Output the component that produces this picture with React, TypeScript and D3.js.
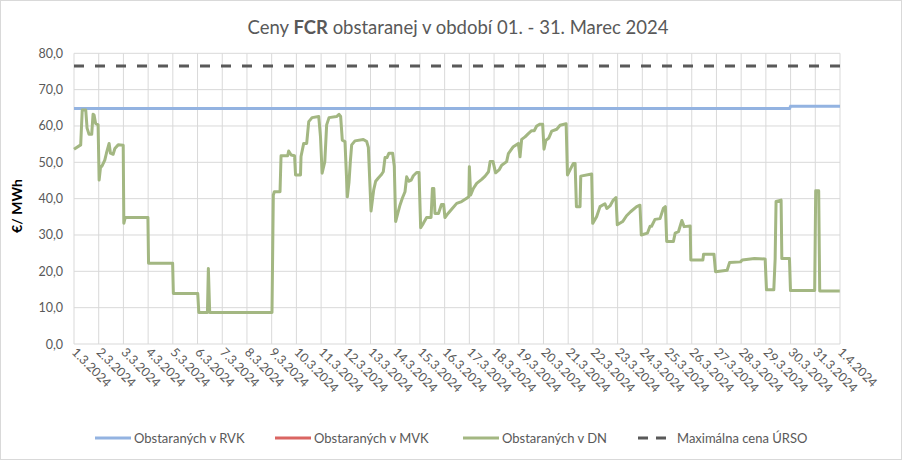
import React from "react";
import * as d3 from "d3";

const W = 902;
const H = 460;

const dateLabels = [
  "1.3.2024","2.3.2024","3.3.2024","4.3.2024","5.3.2024","6.3.2024","7.3.2024","8.3.2024",
  "9.3.2024","10.3.2024","11.3.2024","12.3.2024","13.3.2024","14.3.2024","15.3.2024","16.3.2024",
  "17.3.2024","18.3.2024","19.3.2024","20.3.2024","21.3.2024","22.3.2024","23.3.2024","24.3.2024",
  "25.3.2024","26.3.2024","27.3.2024","28.3.2024","29.3.2024","30.3.2024","31.3.2024","1.4.2024",
];
const yTicks = [0, 10, 20, 30, 40, 50, 60, 70, 80];

// [hour since 1.3.2024 00:00, €/MWh]
const rvkSeries: [number, number][] = [[0, 64.8], [695, 64.8], [696, 65.4], [744, 65.4]];
const mvkSeries: [number, number][] = [];
const ursoSeries: [number, number][] = [[0, 76.5], [744, 76.5]];
const dnSeries: [number, number][] = [
  [0,53.6],[6.5,54.8],[8,64.4],[11.4,64.4],[12.7,59.4],[14.6,57.7],[17.2,57.7],[18.5,63.2],[19.5,63.0],[21,60.7],[23.4,60.3],
  [24.4,45.1],[25.7,48.5],[27.6,49.2],[29.9,50.6],[31.5,52.5],[34.1,55.2],[35.4,52.5],[38,52.2],[39.7,53.8],[42.9,54.8],[47.8,54.7],
  [48.4,33.2],[49.7,34.8],[71.8,34.8],[72.4,22.2],[95.8,22.2],[96.5,13.9],[120.2,13.9],[121.2,8.7],[129.6,8.7],[130.5,20.8],[131.8,8.7],
  [192.3,8.7],[193.6,41.0],[194.6,41.9],[200.1,41.9],[201.1,51.8],[207.5,51.8],[208.5,53.1],[210.9,52.0],[214.2,51.8],[215.2,46.5],[220,46.5],
  [220.5,51.6],[223.1,55.2],[226,55.2],[228,61.2],[231.2,62.3],[237.7,62.6],[239.4,57.1],[241,47.0],[243.6,50.2],
  [245.4,60.3],[247.7,62.3],[255,62.6],[257.4,63.2],[259,62.6],[260.6,56.1],[263.2,55.7],[265.5,40.5],[267.1,44.5],[268.4,50.2],[269.7,54.8],
  [272.9,55.9],[281,56.3],[284.3,55.7],[285.9,54.1],[288.5,36.6],[291.1,42.4],[293,44.8],[295.6,45.7],[298.2,46.5],[300.4,47.4],[302.1,51.3],
  [304,51.3],[305.9,52.5],[309.5,52.5],[311.1,48.9],[312.4,33.7],[314.4,35.9],[316.6,38.2],[318.9,40.1],[321.5,41.9],[323.1,46.0],[325.4,44.8],
  [327.5,45.1],[329.6,46.3],[332.8,47.2],[335.1,47.2],[336.7,32.0],[339.3,33.2],[342.5,34.8],[346.8,34.8],[348.1,42.8],[349.5,42.8],[350.6,35.9],
  [354,35.9],[356.9,38.4],[359,38.4],[360.3,34.8],[363.5,36.0],[366.8,37.1],[371.7,38.7],[376.5,39.2],[381.4,40.1],[383.5,40.5],[384,48.8],
  [385.3,41.0],[387.9,42.8],[391.1,44.2],[396,45.3],[399.3,46.2],[402.6,47.4],[404.2,50.2],[407,50.2],[409.5,47.1],[413.1,48.0],[415.4,49.2],
  [420.2,50.2],[421.9,52.4],[426.7,54.3],[431.6,55.2],[433.2,51.5],[434.8,56.3],[438.1,57.0],[441.3,57.9],[444.5,58.7],[447,58.7],[449.4,60.0],
  [452.6,60.5],[455.2,60.5],[456.5,53.6],[458.4,56.1],[461,56.6],[464,58.6],[468.9,59.1],[472.1,60.2],[478,60.6],[479.3,46.5],[481.8,47.9],
  [485,49.7],[486.7,49.7],[488,37.8],[491.5,37.8],[492.2,46.2],[502.8,46.8],[503.8,33.2],[507.6,35.0],[510.9,37.8],[515.7,38.6],[517.5,37.3],
  [520.6,38.0],[523.8,39.6],[526.4,40.3],[527.7,32.8],[532.9,33.7],[536.7,35.3],[540.6,36.4],[546.5,37.8],[549.7,38.2],[551,30.0],[556.9,30.5],
  [559.5,32.4],[561,32.4],[564.3,34.3],[569.2,34.5],[572.4,37.3],[574.4,37.8],[575.7,28.2],[582.2,28.2],[583.9,30.5],[587.1,30.9],[590.4,34.0],
  [592.6,32.3],[598.5,32.5],[599.1,23.1],[610.8,23.1],[611.5,24.7],[621.6,24.7],[623.1,19.9],[634.4,20.3],[636.7,22.4],[647.4,22.6],[649,23.1],
  [660.9,23.5],[671.3,23.4],[672.6,14.9],[679.7,14.9],[681,23.4],[681.9,39.2],[686.8,39.6],[687.5,23.5],[694.9,23.5],[695.9,14.7],[719.4,14.7],
  [720.4,42.2],[723.3,42.2],[724.3,14.6],[743.8,14.6],
];

const legendItems = [
  { label: "Obstaraných v RVK", color: "#93B3E1", dash: "" },
  { label: "Obstaraných v MVK", color: "#DA6562", dash: "" },
  { label: "Obstaraných v DN", color: "#A3B782", dash: "" },
  { label: "Maximálna cena ÚRSO", color: "#595959", dash: "10,8" },
];

const FONT = "Lato, 'Open Sans', sans-serif";

export default function App() {
  const x = d3.scaleLinear().domain([0, 744]).range([74, 840]);
  const y = d3.scaleLinear().domain([0, 80]).range([344, 53.3]);
  const line = d3.line<[number, number]>().x((d) => x(d[0])).y((d) => y(d[1]));
  const dayTicks = d3.range(0, 745, 24);

  return (
    <svg width={W} height={H} style={{ position: "absolute", left: 0, top: 0, background: "#fff" }} fontFamily={FONT}>
      <rect x={0.5} y={0.5} width={W - 1} height={H - 1} fill="#fff" stroke="#D9D9D9" />
      {/* gridlines */}
      {yTicks.map((t) => (
        <line key={"gy" + t} x1={x(0)} x2={x(744)} y1={y(t)} y2={y(t)} stroke="#D9D9D9" strokeWidth={1} />
      ))}
      {dayTicks.map((h) => (
        <line key={"gx" + h} x1={x(h)} x2={x(h)} y1={y(0)} y2={y(80)} stroke="#D9D9D9" strokeWidth={1} />
      ))}
      {/* y tick labels */}
      {yTicks.map((t) => (
        <text key={"yl" + t} x={63} y={y(t) + 4.5} textAnchor="end" fontSize={12.5} fill="#595959">
          {t.toFixed(1).replace(".", ",")}
        </text>
      ))}
      {/* x tick labels */}
      {dayTicks.map((h, i) => (
        <text key={"xl" + h} transform={`translate(${x(h) - 3},${353}) rotate(45)`} fontSize={12.5} fill="#595959">
          {dateLabels[i]}
        </text>
      ))}
      {/* series */}
      <path d={line(ursoSeries) || ""} fill="none" stroke="#595959" strokeWidth={3} strokeDasharray="10,11" />
      <path d={line(rvkSeries) || ""} fill="none" stroke="#93B3E1" strokeWidth={3} />
      {mvkSeries.length > 0 && <path d={line(mvkSeries) || ""} fill="none" stroke="#DA6562" strokeWidth={3} />}
      <path d={line(dnSeries) || ""} fill="none" stroke="#A3B782" strokeWidth={3} strokeLinejoin="round" />
      {/* title */}
      <text x={458} y={34} textAnchor="middle" fontSize={18.5} fill="#595959">
        Ceny <tspan fontWeight="bold">FCR</tspan> obstaranej v období 01. - 31. Marec 2024
      </text>
      {/* y axis title */}
      <text transform={`translate(22,206) rotate(-90)`} textAnchor="middle" fontSize={14} fontWeight="bold" fill="#000">
        €/ MWh
      </text>
      {/* legend */}
      {legendItems.map((it, i) => {
        const lx = [95, 275, 463, 638][i];
        return (
          <g key={it.label}>
            <line x1={lx} x2={lx + 36} y1={438} y2={438} stroke={it.color} strokeWidth={3} strokeDasharray={it.dash || undefined} />
            <text x={lx + 39} y={443} fontSize={13} fill="#595959">{it.label}</text>
          </g>
        );
      })}
    </svg>
  );
}
